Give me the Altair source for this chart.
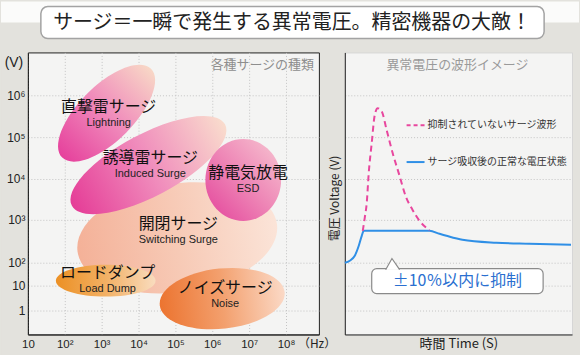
import json
import altair as alt
import pandas as pd

# ---------------- data ----------------
TITLE = "サージ＝一瞬で発生する異常電圧。精密機器の大敵！"
LEFT_TITLE = "各種サージの種類"
RIGHT_TITLE = "異常電圧の波形イメージ"

surge_ja = ["開閉サージ", "ロードダンプ", "ノイズサージ", "誘導雷サージ", "直撃雷サージ", "静電気放電"]
surge_en = ["Switching Surge", "Load Dump", "Noise", "Induced Surge", "Lightning", "ESD"]
# blob centres: log10(frequency in Hz) and position on the illustrative voltage axis
surge_freq = [5.05, 3.11, 6.27, 4.27, 3.135, 6.84]
surge_level = [2.92, 1.2, 0.48, 5.84, 7.92, 5.24]
# label anchors
label_freq = [5.08, 3.16, 6.35, 4.32, 3.19, 6.97]
label_level = [3.48, 1.52, 0.92, 6.12, 8.16, 5.52]

x_ticks = [1, 2, 3, 4, 5, 6, 7, 8]
x_tick_labels = ["10", "10²", "10³", "10⁴", "10⁵", "10⁶", "10⁷", "10⁸"]
y_tick_levels = [0, 1, 1.92, 3.64, 5.28, 6.96, 8.64]
y_tick_labels = ["1", "10", "10²", "10³", "10⁴", "10⁵", "10⁶"]

wave_t_surge = [18, 20, 22, 24, 27, 30, 33, 37, 42, 48, 55, 61, 68, 75, 85]
wave_v_surge = [3.2, 3.72, 4.32, 5.52, 6.72, 7.84, 8.12, 8.0, 7.24, 6.32, 5.4, 4.6, 4.04, 3.6, 3.22]
wave_t_clamped = [0, 5, 10, 14, 17, 19, 85, 95, 102, 118, 152, 185, 227]
wave_v_clamped = [1.92, 2.0, 2.2, 2.6, 3.0, 3.2, 3.2, 3.08, 3.0, 2.84, 2.72, 2.68, 2.64]

legend_labels = ["抑制されていないサージ波形", "サージ吸収後の正常な電圧状態"]
callout_text = "±10％以内に抑制"

# ---------------- styles ----------------
BG = "#e3e2dd"
PLOT_BG = "#f4f4f3"
JP = "Noto Sans CJK JP"
LAT = "Liberation Sans"
PINK = "#e8479e"
BLUE = "#2f8fe6"

LW, LH = 292, 283
RW, RH = 228, 283
X_DOMAIN = [1, 1 + 292 / 37]
Y_DOMAIN = [-0.96, 10.36]
T_DOMAIN = [0, 228]
OX = 27  # left offset of the plot origin from the page edge


def ellipse_path(r):
    k = 0.5523
    return (f"M -1 0 C -1 {-k*r:.4f} {-k} {-r} 0 {-r} C {k} {-r} 1 {-k*r:.4f} 1 0 "
            f"C 1 {k*r:.4f} {k} {r} 0 {r} C {-k} {r} -1 {k*r:.4f} -1 0 Z")


def grad(c0, c1, c2, x1=0, y1=0.5, x2=1, y2=0.5):
    return {"gradient": "linear", "x1": x1, "y1": y1, "x2": x2, "y2": y2,
            "stops": [{"offset": 0, "color": c0}, {"offset": 0.5, "color": c1},
                      {"offset": 1, "color": c2}]}


blob_style = [
    dict(a=101, r=0.54, angle=352, fill=grad("#f4b198", "#f7cab6", "#fbe4d8")),
    dict(a=50, r=0.32, angle=0, fill=grad("#ec9024", "#f2b064", "#f9dcbe")),
    dict(a=63, r=0.48, angle=354, fill=grad("#ec7430", "#f3a06e", "#fbd9c6")),
    dict(a=87, r=0.36, angle=332, fill=grad("#e53d97", "#f08cbc", "#f9dccd")),
    dict(a=63, r=0.44, angle=315, fill=grad("#e6419c", "#f08abb", "#f8d7c6")),
    dict(a=38, r=1.08, angle=0, fill=grad("#e3429a", "#ee86b6", "#f7c6d2", 0, 1, 1, 0)),
]

# ---------------- title row ----------------
title_df = pd.DataFrame({"title": [TITLE]})
band = alt.Chart(title_df).mark_rect(color="#fbfbfa").encode(
    x=alt.value(-OX), x2=alt.value(580 - OX), y=alt.value(0), y2=alt.value(21))
box = alt.Chart(title_df).mark_rect(fill="white", stroke="#a3a3a3", strokeWidth=1.5,
                                    cornerRadius=7).encode(
    x=alt.value(40 - OX), x2=alt.value(545 - OX), y=alt.value(5), y2=alt.value(37))
title_txt = alt.Chart(title_df).mark_text(font=JP, fontSize=20, color="#222").encode(
    x=alt.value(292 - OX), y=alt.value(21), text="title:N")
title_chart = alt.layer(band, box, title_txt).properties(
    width=546, height=40, view=alt.ViewBackground(stroke="transparent"))

# ---------------- left panel ----------------
surge_df = pd.DataFrame({"ja": surge_ja, "en": surge_en, "freq": surge_freq,
                         "level": surge_level, "lfreq": label_freq, "llevel": label_level})

x_axis_left = alt.Axis(values=x_ticks,
                       labelExpr=json.dumps(x_tick_labels, ensure_ascii=False) + "[datum.value - 1]",
                       title=None, grid=True, gridColor="#c4c4c4", gridDash=[1, 2],
                       domainColor="#222", ticks=False, tickSize=0, labelPadding=4,
                       labelFont=LAT, labelFontSize=11.5, labelColor="#222",
                       labelAlign="center", labelFlush=False, labelOverlap=False)
y_axis_left = alt.Axis(values=y_tick_levels,
                       labelExpr=json.dumps(y_tick_labels, ensure_ascii=False)
                       + "[indexof(" + json.dumps(y_tick_levels) + ", datum.value)]",
                       title=None, grid=True, gridColor="#c4c4c4", gridDash=[1, 2],
                       domainColor="#222", ticks=False, tickSize=0, labelPadding=3,
                       labelFont=LAT, labelFontSize=12, labelColor="#222",
                       labelBaseline="middle", labelFlush=False, labelOverlap=False)


def xl(field):
    return alt.X(f"{field}:Q", scale=alt.Scale(domain=X_DOMAIN, nice=False, zero=False),
                 axis=x_axis_left)


def yl(field):
    return alt.Y(f"{field}:Q", scale=alt.Scale(domain=Y_DOMAIN, nice=False, zero=False),
                 axis=y_axis_left)


one = pd.DataFrame({"k": [0]})
left_layers = [
    alt.Chart(one).mark_rule(color=BG).encode(
        x=alt.value(-OX), y=alt.value(0), y2=alt.value(306)),
]
for name, st in zip(surge_ja, blob_style):
    left_layers.append(
        alt.Chart(surge_df).transform_filter(alt.datum.ja == name).mark_point(
            shape=ellipse_path(st["r"]), size=(2 * st["a"]) ** 2, angle=st["angle"],
            filled=True, fill=st["fill"], opacity=1, strokeWidth=0
        ).encode(x=xl("freq"), y=yl("level"))
    )
left_layers += [
    alt.Chart(surge_df).mark_text(font=JP, fontSize=16, color="#111").encode(
        x=xl("lfreq"), y=yl("llevel"), text="ja:N"),
    alt.Chart(surge_df).mark_text(font=LAT, fontSize=11, color="#222", dy=16).encode(
        x=xl("lfreq"), y=yl("llevel"), text="en:N"),
    alt.Chart(one).mark_text(font=JP, fontSize=13, color="#8e8e8e", align="right",
                             text=LEFT_TITLE).encode(x=alt.value(LW - 5), y=alt.value(13)),
    alt.Chart(one).mark_text(font=LAT, fontSize=14, color="#222", text="(V)").encode(
        x=alt.value(-14), y=alt.value(11)),
    alt.Chart(one).mark_text(font=JP, fontSize=12, color="#222", align="left",
                             text="（Hz）").encode(x=alt.value(271), y=alt.value(293)),
]
left = alt.layer(*left_layers).properties(
    width=LW, height=LH, view=alt.ViewBackground(fill=PLOT_BG, stroke="#222"))

# ---------------- right panel ----------------
x_axis_right = alt.Axis(labels=False, ticks=False, tickSize=0, grid=False, domainColor="#222",
                        title="時間 Time (S)", titleFont=JP, titleFontSize=13,
                        titleFontWeight="normal", titleColor="#222", titlePadding=3)
y_axis_right = alt.Axis(values=y_tick_levels, labels=False, ticks=False, tickSize=0,
                        grid=True, gridColor="#c4c4c4", gridDash=[1, 2], domainColor="#222",
                        title="電圧 Voltage (V)", titleFont=JP, titleFontSize=12,
                        titleFontWeight="normal", titleColor="#222", titlePadding=3,
                        titleY=146)


def xr(field):
    return alt.X(f"{field}:Q", scale=alt.Scale(domain=T_DOMAIN, nice=False, zero=False),
                 axis=x_axis_right)


def yr(field):
    return alt.Y(f"{field}:Q", scale=alt.Scale(domain=Y_DOMAIN, nice=False, zero=False),
                 axis=y_axis_right)


surge_wave = pd.DataFrame({"t": wave_t_surge, "v": wave_v_surge})
clamp_wave = pd.DataFrame({"t": wave_t_clamped, "v": wave_v_clamped})
leg_df = pd.DataFrame({"label": legend_labels})

right_layers = [
    alt.Chart(one).mark_rect(fill="white", stroke="#8a8a8a", strokeWidth=1.2,
                             cornerRadius=5).encode(
        x=alt.value(27), x2=alt.value(199), y=alt.value(217), y2=alt.value(242)),
    alt.Chart(one).mark_point(shape="M -1 1 L -0.1 -0.6 L 1 1", size=196, filled=True,
                              fill="white", stroke="#8a8a8a", strokeWidth=1.2,
                              opacity=1).encode(x=alt.value(48), y=alt.value(211)),
    alt.Chart(one).mark_text(font=JP, fontSize=16, color="#2a6fd0", text=callout_text).encode(
        x=alt.value(113), y=alt.value(229)),
    alt.Chart(clamp_wave).mark_line(color=BLUE, strokeWidth=2, interpolate="monotone").encode(
        x=xr("t"), y=yr("v")),
    alt.Chart(surge_wave).mark_line(color=PINK, strokeWidth=2, strokeDash=[6, 4],
                                    interpolate="monotone").encode(x=xr("t"), y=yr("v")),
    alt.Chart(leg_df).transform_filter(alt.datum.label == legend_labels[0]).mark_rule(
        color=PINK, strokeWidth=2, strokeDash=[4, 3]).encode(
        x=alt.value(62), x2=alt.value(80), y=alt.value(73)),
    alt.Chart(leg_df).transform_filter(alt.datum.label == legend_labels[1]).mark_rule(
        color=BLUE, strokeWidth=2).encode(
        x=alt.value(62), x2=alt.value(80), y=alt.value(110)),
    alt.Chart(leg_df).transform_filter(alt.datum.label == legend_labels[0]).mark_text(
        font=JP, fontSize=10, color="#333", align="left").encode(
        x=alt.value(83), y=alt.value(73), text="label:N"),
    alt.Chart(leg_df).transform_filter(alt.datum.label == legend_labels[1]).mark_text(
        font=JP, fontSize=10, color="#333", align="left").encode(
        x=alt.value(83), y=alt.value(110), text="label:N"),
    alt.Chart(one).mark_text(font=JP, fontSize=13, color="#9a9a9a", text=RIGHT_TITLE).encode(
        x=alt.value(113), y=alt.value(13)),
]
right = alt.layer(*right_layers).properties(
    width=RW, height=RH, view=alt.ViewBackground(fill=PLOT_BG, stroke="#d6d6d6"))

row = alt.hconcat(left, right, spacing=26, bounds="flush")
chart = alt.vconcat(title_chart, row, spacing=9).properties(
    background=BG, padding=0)

chart.save("out.html", embed_options={"renderer": "svg", "actions": False})
